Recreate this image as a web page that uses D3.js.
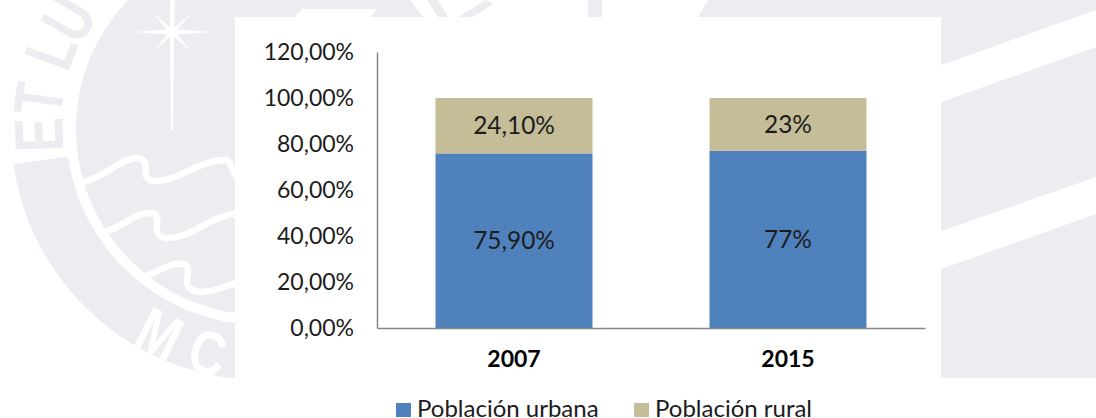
<!DOCTYPE html>
<html>
<head>
<meta charset="utf-8">
<script src="https://cdn.jsdelivr.net/npm/d3@7"></script>
<style>
  html, body { margin: 0; padding: 0; background: #fff; overflow: hidden; }
  svg { display: block; font-family: Lato, "Noto Sans", sans-serif; filter: blur(0.35px); }
</style>
</head>
<body>
<div id="chart"></div>
<script>
const years = ["2007", "2015"];
const urbana = [75.9, 77];
const rural = [24.1, 23];
const urbanaLabels = ["75,90%", "77%"];
const ruralLabels = ["24,10%", "23%"];
const seriesNames = ["Población urbana", "Población rural"];
const yTicks = [0, 20, 40, 60, 80, 100, 120];

const size = { width: 1096, height: 418 };
const panel = { left: 235, top: 17, right: 941, bottom: 380 };
const margin = { top: 52, bottom: 90, left: 377, right: 171 };
const grey = "#ecedf1";
const ink = "#1c1c1c";

const svg = d3
  .select("#chart")
  .append("svg")
  .attr("width", size.width)
  .attr("height", size.height);

// watermark behind the chart, just decoration
const drawWatermark = () => {
  const bg = svg.append("g");
  const cx = 262;
  const cy = 129;
  const arc = d3.arc();

  bg.append("circle").attr("cx", cx).attr("cy", cy).attr("r", 186).attr("fill", grey);

  // outer band, from the left side round the bottom
  bg.append("path")
    .attr("transform", `translate(${cx},${cy})`)
    .attr("fill", grey)
    .attr("d", arc({ innerRadius: 196, outerRadius: 251, startAngle: -Math.PI * 0.545, endAngle: -Math.PI * 1.2 }));

  bg.append("polygon").attr("fill", grey).attr("points", "230,0 410,0 423,17 230,17");
  bg.append("polygon").attr("fill", "#fff").attr("points", "294,17 302,9 377,9 370,17");
  bg.append("polygon").attr("fill", grey).attr("points", "427,0 438,0 448,17 438,17");
  bg.append("polygon").attr("fill", grey).attr("points", "486,0 493,4 473,17 458,17");
  bg.append("rect").attr("x", 588).attr("y", 0).attr("width", 14).attr("height", 17).attr("fill", grey);
  bg.append("polygon").attr("fill", grey).attr("points", "708,0 1096,0 1096,378 698,378 698,17");
  bg.append("polygon").attr("fill", "#fff").attr("points", "930,69 1096,10 1096,47 930,106");
  bg.append("polygon").attr("fill", "#fff").attr("points", "930,235 1096,177 1096,214 930,273");

  // star
  bg.append("polygon").attr("fill", "#fff").attr("points", "170,0 175,0 174,32 173,130 171,130 170,32");
  bg.append("polygon").attr("fill", "#fff").attr("points", "135,32 172,29 210,32 172,35");
  bg.append("polygon").attr("fill", "#fff").attr("points", "153,13 174,31 192,52 170,33");
  bg.append("polygon").attr("fill", "#fff").attr("points", "192,13 174,33 153,52 170,31");

  // waves
  const clipId = "seal-clip";
  svg.append("clipPath").attr("id", clipId).append("circle").attr("cx", cx).attr("cy", cy).attr("r", 186);
  const waves = [
    "M80,183 C105,178 120,158 138,158 C152,160 140,176 150,180 C172,186 198,160 225,160 C232,160 232,176 240,178",
    "M105,232 C125,226 135,212 152,213 C165,216 148,234 165,238 C190,240 210,215 240,213",
    "M143,278 C160,270 172,262 184,264 C195,270 178,286 195,291 C210,294 225,286 240,282",
  ];
  bg.append("g")
    .attr("clip-path", `url(#${clipId})`)
    .selectAll("path")
    .data(waves)
    .enter()
    .append("path")
    .attr("d", (d) => d)
    .attr("fill", "none")
    .attr("stroke", "#fff")
    .attr("stroke-width", 6.5);

  // lettering round the ring: grey on white at the top, white on grey at the bottom
  const topLetters = [["E", 38, 135], ["T", 38, 99], ["L", 50, 50], ["U", 68, 18]];
  topLetters.forEach(([ch, x, y]) => {
    const rot = (Math.atan2(x - cx, cy - y) * 180) / Math.PI;
    bg.append("text")
      .text(ch)
      .attr("transform", `translate(${x},${y}) rotate(${rot}) scale(0.75,1)`)
      .attr("text-anchor", "middle")
      .attr("dy", "0.36em")
      .attr("font-family", "Liberation Sans")
      .attr("font-weight", "bold")
      .attr("font-size", 69)
      .attr("fill", grey);
  });
  const bottomLetters = [["M", 160, 333], ["C", 208, 352]];
  bottomLetters.forEach(([ch, x, y]) => {
    const rot = (Math.atan2(cx - x, y - cy) * 180) / Math.PI;
    bg.append("text")
      .text(ch)
      .attr("transform", `translate(${x},${y}) rotate(${rot}) scale(0.8,1)`)
      .attr("text-anchor", "middle")
      .attr("dy", "0.36em")
      .attr("font-family", "Liberation Sans")
      .attr("font-weight", "bold")
      .attr("font-size", 62)
      .attr("fill", "#fff");
  });
};

drawWatermark();

svg
  .append("rect")
  .attr("x", panel.left)
  .attr("y", panel.top)
  .attr("width", panel.right - panel.left)
  .attr("height", panel.bottom - panel.top)
  .attr("fill", "#fff");

// white strip below the panel covers whatever is left of the seal
svg.append("rect").attr("x", 0).attr("y", 380).attr("width", size.width).attr("height", 38).attr("fill", "#fff");

const data = years.map((year, i) => ({
  year,
  urbana: urbana[i],
  rural: rural[i],
}));

const color = d3
  .scaleOrdinal()
  .domain(["urbana", "rural"])
  .range(["#4f81bd", "#c4bd97"]);

const labels = { urbana: urbanaLabels, rural: ruralLabels };

const x = d3
  .scaleBand()
  .domain(years)
  .range([margin.left, size.width - margin.right])
  .paddingInner(0.427)
  .paddingOuter(0.2135);

const y = d3
  .scaleLinear()
  .domain([0, 120])
  .range([size.height - margin.bottom, margin.top]);

const stackedData = d3.stack().keys(["urbana", "rural"])(data);

const layers = svg
  .append("g")
  .selectAll(".layer")
  .data(stackedData)
  .enter()
  .append("g")
  .attr("class", "layer")
  .attr("fill", (d) => color(d.key));

layers
  .selectAll("rect")
  .data((d) => d)
  .enter()
  .append("rect")
  .attr("x", (d) => x(d.data.year))
  .attr("y", (d) => y(d[1]))
  .attr("width", x.bandwidth())
  .attr("height", (d) => y(d[0]) - y(d[1]));

stackedData.forEach((layer) => {
  svg
    .append("g")
    .selectAll("text")
    .data(layer)
    .enter()
    .append("text")
    .text((d, i) => labels[layer.key][i])
    .attr("x", (d) => x(d.data.year) + x.bandwidth() / 2)
    .attr("y", (d) => (y(d[0]) + y(d[1])) / 2)
    .attr("dy", "0.35em")
    .attr("text-anchor", "middle")
    .attr("font-size", 24.4)
    .attr("fill", ink);
});

const yAxis = svg
  .append("g")
  .attr("transform", `translate(${margin.left},0)`)
  .call(
    d3
      .axisLeft(y)
      .tickValues(yTicks)
      .tickSize(0)
      .tickPadding(23)
      .tickFormat((d) => d.toFixed(2).replace(".", ",") + "%")
  );
yAxis.select(".domain").attr("stroke", "#868686").attr("stroke-width", 1.5);
yAxis.selectAll("text").attr("font-size", 23).attr("font-family", "Lato").attr("fill", ink);

const xAxis = svg
  .append("g")
  .attr("transform", `translate(0,${size.height - margin.bottom})`)
  .call(d3.axisBottom(x).tickSize(0).tickPadding(23));
xAxis.select(".domain").attr("stroke", "#868686").attr("stroke-width", 1.5);
xAxis
  .selectAll("text")
  .attr("font-size", 23)
  .attr("font-family", "Lato")
  .attr("font-weight", "bold")
  .attr("fill", "#000");

const legendX = d3.scaleOrdinal().domain(seriesNames).range([396, 634]);

const legend = svg
  .append("g")
  .selectAll("g")
  .data(seriesNames)
  .enter()
  .append("g")
  .attr("transform", (d) => `translate(${legendX(d)},403)`);

legend
  .append("rect")
  .attr("width", 15)
  .attr("height", 14)
  .attr("fill", (d, i) => color.range()[i]);

legend
  .append("text")
  .text((d) => d)
  .attr("x", 21)
  .attr("y", 14)
  .attr("font-size", 24)
  .attr("fill", ink);
</script>
</body>
</html>
